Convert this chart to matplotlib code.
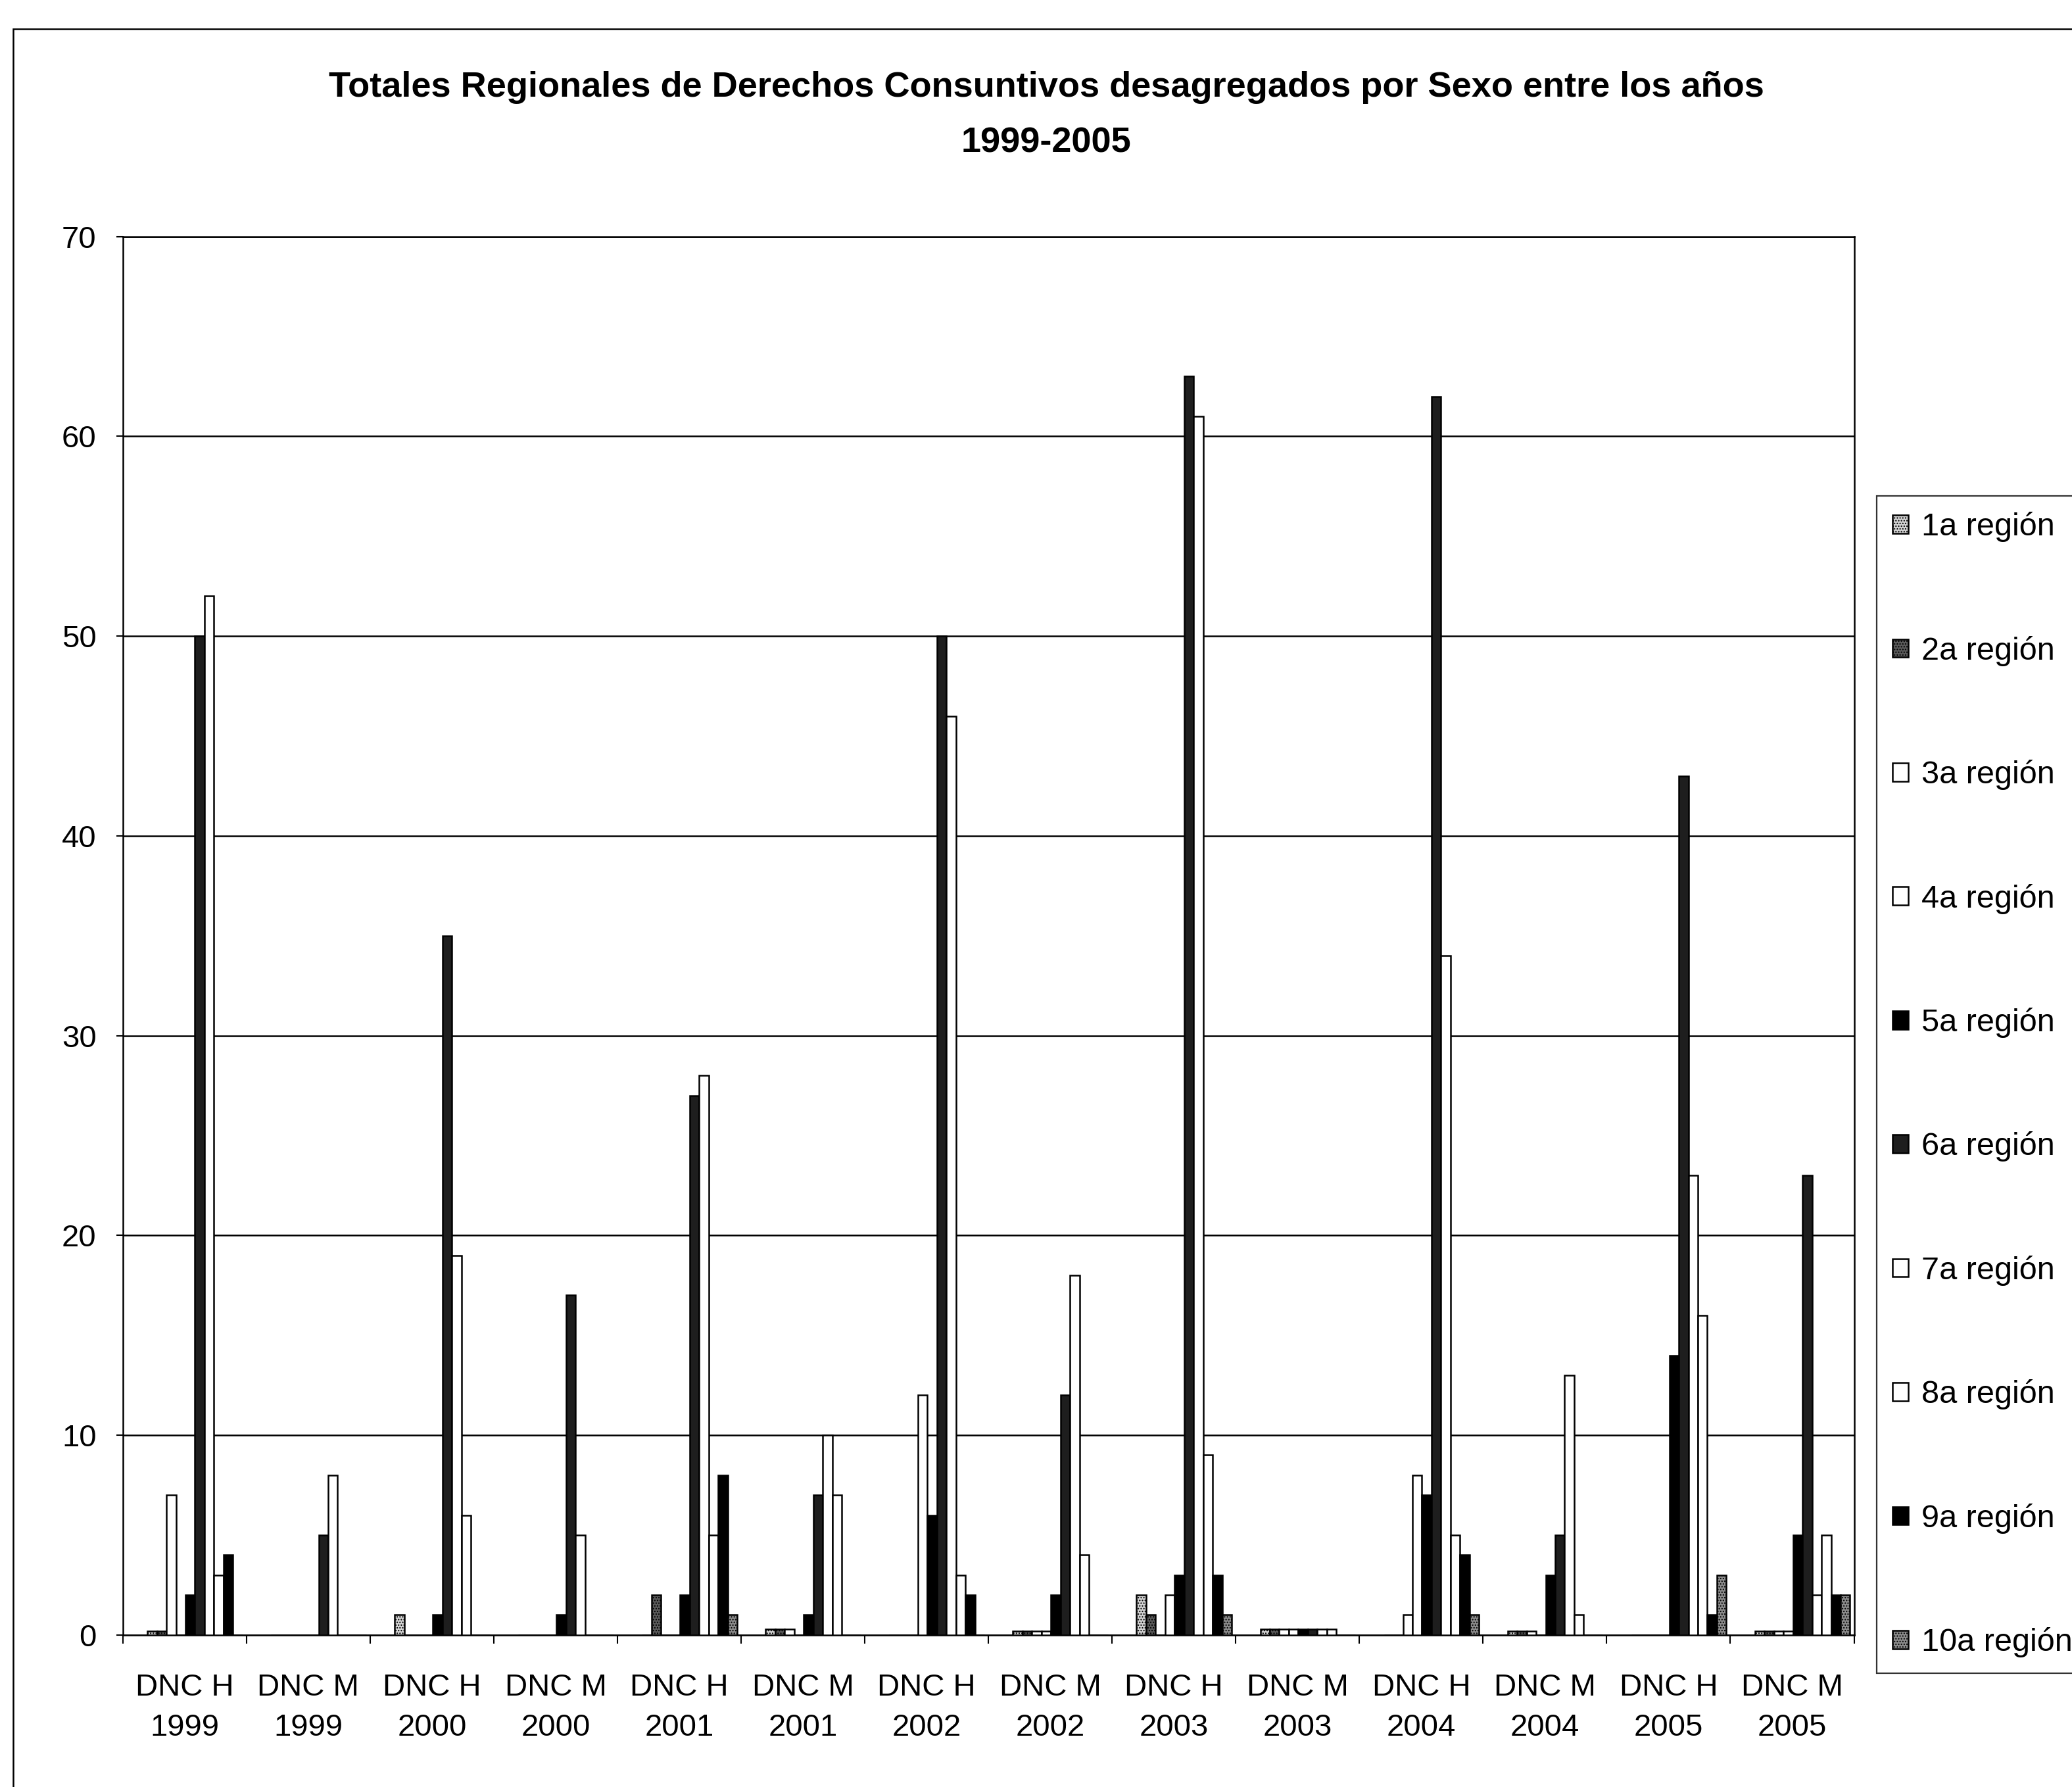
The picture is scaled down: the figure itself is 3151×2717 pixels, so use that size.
import matplotlib
matplotlib.use("Agg")
import matplotlib.pyplot as plt
from matplotlib.patches import Rectangle
import numpy as np

plt.rcParams['font.family'] = ['Liberation Sans', 'DejaVu Sans']

# categories (x axis)
categories = ['DNC H\n1999', 'DNC M\n1999', 'DNC H\n2000', 'DNC M\n2000',
              'DNC H\n2001', 'DNC M\n2001', 'DNC H\n2002', 'DNC M\n2002',
              'DNC H\n2003', 'DNC M\n2003', 'DNC H\n2004', 'DNC M\n2004',
              'DNC H\n2005', 'DNC M\n2005']

regions = ['1a región', '2a región', '3a región', '4a región', '5a región',
           '6a región', '7a región', '8a región', '9a región', '10a región']

# values per region, one per category
r1 = [0.2, 0, 1, 0, 0, 0.3, 0, 0.2, 2, 0.3, 0, 0.2, 0, 0.2]
r2 = [0.2, 0, 0, 0, 2, 0.3, 0, 0.2, 1, 0.3, 0, 0.2, 0, 0.2]
r3 = [7, 0, 0, 0, 0, 0.3, 0, 0.2, 0, 0.3, 1, 0.2, 0, 0.2]
r4 = [0, 0, 0, 0, 0, 0, 12, 0.2, 2, 0.3, 8, 0, 0, 0.2]
r5 = [2, 0, 1, 1, 2, 1, 6, 2, 3, 0.3, 7, 3, 14, 5]
r6 = [50, 5, 35, 17, 27, 7, 50, 12, 63, 0.3, 62, 5, 43, 23]
r7 = [52, 8, 19, 5, 28, 10, 46, 18, 61, 0.3, 34, 13, 23, 2]
r8 = [3, 0, 6, 0, 5, 7, 3, 4, 9, 0.3, 5, 1, 16, 5]
r9 = [4, 0, 0, 0, 8, 0, 2, 0, 3, 0, 4, 0, 1, 2]
r10 = [0, 0, 0, 0, 1, 0, 0, 0, 1, 0, 1, 0, 3, 2]
series = [r1, r2, r3, r4, r5, r6, r7, r8, r9, r10]

# grey-scale look of the scanned print
fills = ['#d4d4d4', '#5a5a5a', 'white', 'white', 'black',
         '#1e1e1e', 'white', 'white', 'black', '#8c8c8c']
hatches = ['....', '....', None, None, None, None, '', None, None, '....']

fig = plt.figure(figsize=(31.51, 27.17), dpi=100)
ax = fig.add_axes([0.0593, 0.0851, 0.8355, 0.7825])

n = len(categories)
x = np.arange(n)
w = 0.077
shift = 0.083
handles = []
for i, vals in enumerate(series):
    xpos = x + 0.5 + shift + (i - 4.5) * w
    b = ax.bar(xpos, vals, width=w, color=fills[i], edgecolor='black',
               linewidth=1.8, hatch=hatches[i], label=regions[i], zorder=3)
    handles.append(b)

ax.set_xlim(0, n)
ax.set_ylim(0, 70)
ax.set_yticks(range(0, 71, 10))
ax.yaxis.grid(True, color='black', linewidth=1.8)
ax.set_axisbelow(True)

ax.set_xticks(np.arange(0, n + 1))
ax.set_xticklabels([])
ax.set_xticks(x + 0.5, minor=True)
ax.set_xticklabels(categories, minor=True, fontsize=34, linespacing=1.5)
ax.tick_params(axis='x', which='major', length=9, width=1.5, direction='out')
ax.tick_params(axis='x', which='minor', length=0, pad=42)
ax.tick_params(axis='y', length=7, width=1.5, labelsize=34, pad=22)

for s in ax.spines.values():
    s.set_color('black')
    s.set_linewidth(1.8)

fig.text(0.505, 0.951,
         'Totales Regionales de Derechos Consuntivos desagregados por Sexo entre los años',
         ha='center', va='center', fontsize=39, fontweight='bold')
fig.text(0.505, 0.920, '1999-2005', ha='center', va='center',
         fontsize=39, fontweight='bold')

leg = ax.legend(handles=handles, loc='upper left',
                bbox_to_anchor=(0.9057, 0.7225), bbox_transform=fig.transFigure,
                fontsize=35, labelspacing=2.93, handlelength=0.5,
                handleheight=0.5, handletextpad=0.4, borderpad=0.5,
                borderaxespad=0, fancybox=False, frameon=True)
leg.get_frame().set_edgecolor('black')
leg.get_frame().set_linewidth(1.6)

# outer chart-area border (cut by the scan at right and bottom)
fig.add_artist(Rectangle((0.0063, -0.2), 1.5, 0.9838 + 0.2,
                         transform=fig.transFigure, fill=False,
                         edgecolor='black', linewidth=1.8))

fig.savefig('out.png', dpi=100, facecolor='white')
